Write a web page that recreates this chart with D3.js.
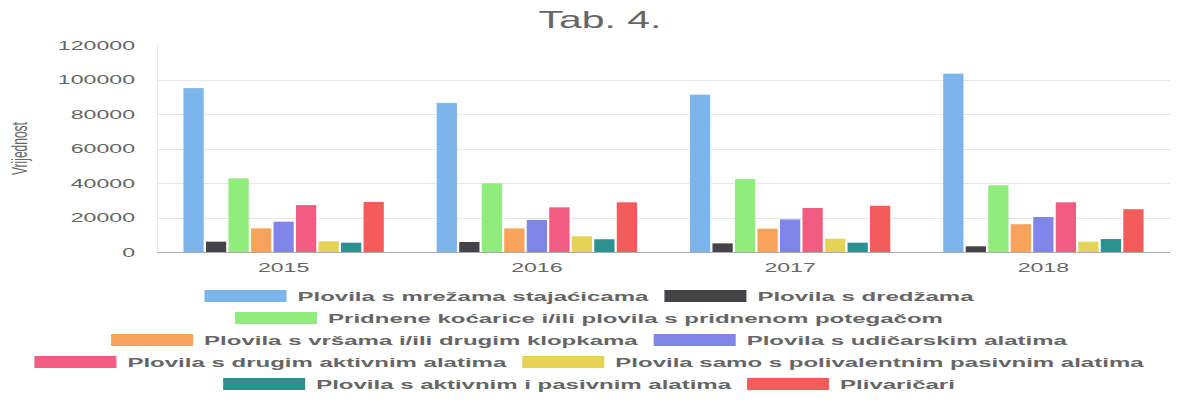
<!DOCTYPE html>
<html>
<head>
<meta charset="utf-8">
<script src="https://cdn.jsdelivr.net/npm/d3@7"></script>
<style>
  body { margin: 0; background: #fff; }
  svg { display: block; font-family: "Liberation Sans", Arial, Helvetica, sans-serif; }
</style>
</head>
<body>
<div id="chart"></div>
<script>
const years = ["2015", "2016", "2017", "2018"];
const seriesNames = [
  "Plovila s mrežama stajaćicama",
  "Plovila s dredžama",
  "Pridnene koćarice i/ili plovila s pridnenom potegačom",
  "Plovila s vršama i/ili drugim klopkama",
  "Plovila s udičarskim alatima",
  "Plovila s drugim aktivnim alatima",
  "Plovila samo s polivalentnim pasivnim alatima",
  "Plovila s aktivnim i pasivnim alatima",
  "Plivaričari"
];
const seriesColors = ["#7cb5ec", "#434348", "#90ed7d", "#f7a35c", "#8085e9",
  "#f15c80", "#e4d354", "#2b908f", "#f45b5b"];

const stajacicama = [95000, 86400, 91200, 103400];
const dredzama = [6000, 5800, 5000, 3300];
const pridnene = [42700, 39800, 42300, 38700];
const vrsama = [13700, 13700, 13500, 16100];
const udicarski = [17600, 18600, 18900, 20300];
const drugiAktivni = [27200, 25900, 25500, 28800];
const polivalentni = [6200, 9100, 7700, 6000];
const aktivniPasivni = [5400, 7400, 5400, 7500];
const plivaricari = [29000, 28800, 26800, 24800];
const seriesValues = [stajacicama, dredzama, pridnene, vrsama, udicarski,
  drugiAktivni, polivalentni, aktivniPasivni, plivaricari];

const yTicks = [0, 20000, 40000, 60000, 80000, 100000, 120000];
const legendRows = [[0, 1], [2], [3, 4], [5, 6], [7, 8]];

const width = 1200, height = 400;
const SX = 1.78; // horizontal stretch of the original canvas
const margin = { top: 45, left: 157, right: 30, bottom: 148 };
const textColor = "#666";

const svg = d3.select("#chart").append("svg")
  .attr("width", width).attr("height", height);

function addText(g, x, y, str, size, opts) {
  opts = opts || {};
  return g.append("text")
    .attr("transform", `translate(${x},${y}) scale(${SX},1)` + (opts.rotate ? ` rotate(${opts.rotate})` : ""))
    .attr("text-anchor", opts.anchor || "middle")
    .attr("dominant-baseline", opts.baseline || "auto")
    .style("font-size", size + "px")
    .style("font-weight", opts.weight || "normal")
    .style("fill", textColor)
    .text(str);
}

// title
addText(svg, 600, 28, "Tab. 4.", 23);

const x0 = d3.scaleBand().domain(years)
  .range([margin.left, width - margin.right])
  .paddingInner(0.2).paddingOuter(0.1);
const x1 = d3.scaleBand().domain(d3.range(seriesNames.length))
  .range([0, x0.bandwidth()])
  .paddingInner(0.1).paddingOuter(0.05);
const y = d3.scaleLinear().domain([0, 120000]).range([height - margin.bottom, margin.top]);

// grid
svg.append("g").selectAll("line")
  .data(yTicks.filter(d => d > 0 && d < 120000))
  .enter().append("line")
  .attr("x1", margin.left).attr("x2", width - margin.right)
  .attr("y1", d => Math.round(y(d)) + 0.5).attr("y2", d => Math.round(y(d)) + 0.5)
  .attr("stroke", "#e6e6e6");

svg.append("line")
  .attr("x1", margin.left + 0.5).attr("x2", margin.left + 0.5)
  .attr("y1", y(120000)).attr("y2", y(0))
  .attr("stroke", "#e6e6e6");

// y tick labels
yTicks.forEach(function (t) {
  addText(svg, margin.left - 22, y(t), String(t), 13, { anchor: "end", baseline: "central" });
});

// y axis title
addText(svg, 20, (y(0) + y(120000)) / 2, "Vrijednost", 12, { rotate: -90, baseline: "central" });

// bars
const groups = svg.append("g").selectAll("g")
  .data(years)
  .enter().append("g")
  .attr("transform", d => `translate(${x0(d)},0)`);

groups.selectAll("rect")
  .data((d, i) => seriesValues.map((vals, s) => ({ s: s, v: vals[i] })))
  .enter().append("rect")
  .attr("x", d => x1(d.s))
  .attr("width", x1.bandwidth())
  .attr("y", d => y(d.v))
  .attr("height", d => y(0) - y(d.v))
  .attr("fill", d => seriesColors[d.s]);

// baseline
svg.append("line")
  .attr("x1", margin.left).attr("x2", width - margin.right)
  .attr("y1", Math.round(y(0)) + 0.5).attr("y2", Math.round(y(0)) + 0.5)
  .attr("stroke", "#aaa");

// x labels
years.forEach(function (yr) {
  addText(svg, x0(yr) + x0.bandwidth() / 2, 272, yr, 13);
});

// legend
const boxW = 82, boxH = 12, boxGap = 11, itemGap = 16;
const legend = svg.append("g").attr("class", "legend");
legendRows.forEach(function (row, r) {
  const cy = 296 + r * 22;
  const rowG = legend.append("g");
  let cursor = 0;
  row.forEach(function (s) {
    rowG.append("rect")
      .attr("x", cursor).attr("y", cy - boxH / 2)
      .attr("width", boxW).attr("height", boxH)
      .attr("fill", seriesColors[s]);
    const t = addText(rowG, cursor + boxW + boxGap, cy, seriesNames[s], 13.5,
      { anchor: "start", baseline: "central", weight: "bold" });
    cursor += boxW + boxGap + t.node().getComputedTextLength() * SX + itemGap;
  });
  const rowWidth = cursor - itemGap;
  rowG.attr("transform", `translate(${589 - rowWidth / 2},0)`);
});
</script>
</body>
</html>
